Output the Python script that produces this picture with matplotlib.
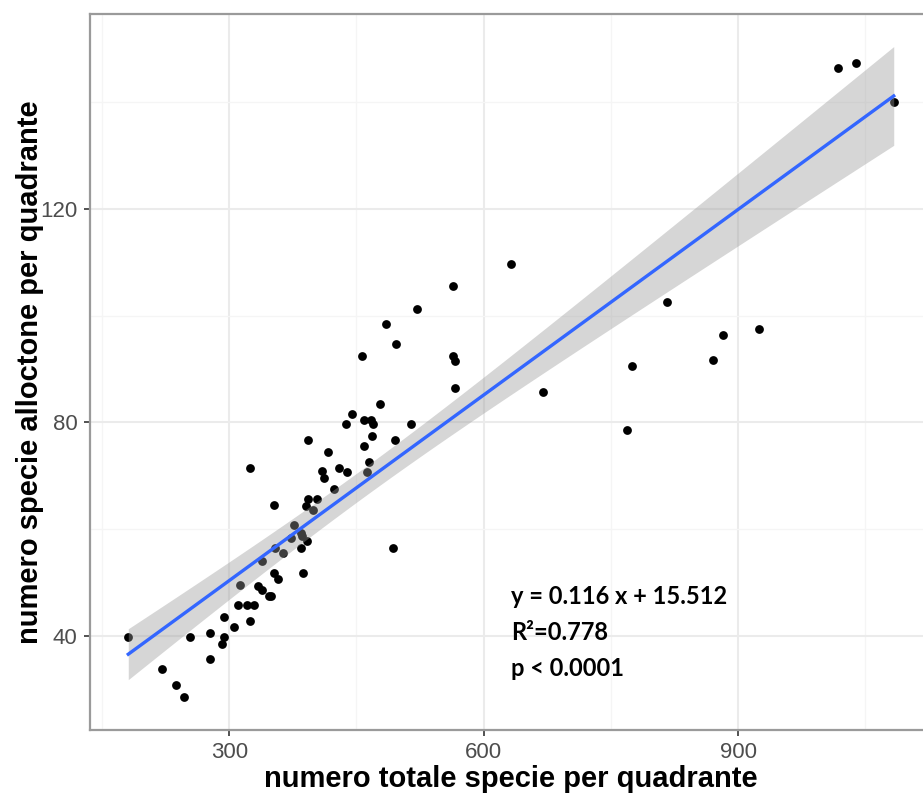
import numpy as np
import matplotlib

matplotlib.use("Agg")
import matplotlib.pyplot as plt
from matplotlib.ticker import MultipleLocator

# total species vs. alien species per survey square
totale = [
    1017.7, 1039.3, 1083.4, 816.5, 774.4, 769.3, 882.6, 870.4, 925.0, 631.9,
    670.0, 563.7, 520.9, 485.4, 497.2, 457.1, 563.4, 566.6, 565.7, 478.0,
    445.3, 438.2, 459.4, 466.9, 469.7, 514.1, 468.9, 459.4, 495.2, 417.0,
    464.5, 462.6, 429.1, 438.5, 424.0, 492.9, 393.0, 324.8, 409.8, 412.2,
    353.1, 393.3, 403.1, 390.1, 398.4, 376.4, 372.4, 384.7, 386.2, 391.3,
    384.2, 386.6, 363.0, 354.3, 338.6, 353.1, 357.9, 313.0, 334.3, 338.1,
    346.9, 349.2, 310.6, 321.3, 329.5, 324.8, 294.1, 305.5, 294.1, 291.7,
    277.6, 277.6, 254.3, 181.0, 220.9, 237.4, 246.9,
]
alloctone = [
    146.5, 147.3, 140.1, 102.5, 90.5, 78.5, 96.4, 91.7, 97.5, 109.6,
    85.6, 105.5, 101.3, 98.4, 94.6, 92.4, 92.5, 91.5, 86.4, 83.4,
    81.5, 79.7, 80.5, 80.5, 79.7, 79.7, 77.5, 75.6, 76.7, 74.5,
    72.6, 70.7, 71.4, 70.7, 67.4, 56.5, 76.7, 71.5, 70.8, 69.6,
    64.4, 65.7, 65.7, 64.3, 63.6, 60.7, 58.3, 59.3, 58.7, 57.7,
    56.5, 51.7, 55.4, 56.4, 53.9, 51.7, 50.6, 49.5, 49.3, 48.6,
    47.5, 47.4, 45.7, 45.7, 45.7, 42.7, 43.5, 41.6, 39.8, 38.5,
    40.4, 35.6, 39.8, 39.8, 33.7, 30.7, 28.4,
]

SLOPE = 0.116
INTERCEPT = 15.512
R2 = 0.778
T_CRIT = 1.992  # t(0.975, n - 2)

x = np.array(totale)
y = np.array(alloctone)
n = len(x)

# confidence band of the fitted mean, like geom_smooth(method = "lm")
xs = np.linspace(x.min(), x.max(), 80)
fit = INTERCEPT + SLOPE * xs
resid = y - (INTERCEPT + SLOPE * x)
s = np.sqrt(np.sum(resid ** 2) / (n - 2))
sxx = np.sum((x - x.mean()) ** 2)
se = s * np.sqrt(1 / n + (xs - x.mean()) ** 2 / sxx)
lo = fit - T_CRIT * se
hi = fit + T_CRIT * se

W, H = 923, 801
fig = plt.figure(figsize=(W / 100, H / 100), dpi=100)
left, right, bottom, top = 90, 932, 730, 14
ax = fig.add_axes([left / W, 1 - bottom / H, (right - left) / W, (bottom - top) / H])

ax.scatter(x, y, s=40, color="black", linewidths=0, zorder=2)
ax.fill_between(xs, lo, hi, color="#999999", alpha=0.4, linewidth=0, zorder=3)
ax.plot(xs, fit, color="#3366FF", linewidth=2.4, zorder=4)

xpad = 0.05 * (x.max() - x.min())
ymin = min(y.min(), lo.min())
ymax = max(y.max(), hi.max())
ypad = 0.05 * (ymax - ymin)
ax.set_xlim(x.min() - xpad, x.max() + xpad)
ax.set_ylim(ymin - ypad, ymax + ypad)

ax.xaxis.set_major_locator(MultipleLocator(300))
ax.xaxis.set_minor_locator(MultipleLocator(150))
ax.yaxis.set_major_locator(MultipleLocator(40))
ax.yaxis.set_minor_locator(MultipleLocator(20))
ax.grid(True, which="major", color="#EBEBEB", linewidth=1.5, zorder=0)
ax.grid(True, which="minor", color="#F5F5F5", linewidth=0.9, zorder=0)
ax.set_axisbelow(True)

for side in ax.spines.values():
    side.set_color("#9A9A9A")
    side.set_linewidth(1.6)

ax.tick_params(which="major", length=4, width=1.2, color="#333333",
               labelsize=16, labelcolor="#4D4D4D", pad=5)
ax.tick_params(which="minor", length=0)
for lab in ax.get_xticklabels() + ax.get_yticklabels():
    lab.set_family("Liberation Sans")

ax.set_xlabel("numero totale specie per quadrante", fontsize=21,
              fontweight="bold", family="Liberation Sans", labelpad=1)
ax.set_ylabel("numero specie alloctone per quadrante", fontsize=21,
              fontweight="bold", family="Liberation Sans", labelpad=-2.5)

stats = [
    f"y = {SLOPE:.3f} x + {INTERCEPT:.3f}",
    f"R\u00b2={R2:.3f}",
    "p < 0.0001",
]
for i, line in enumerate(stats):
    fig.text(511 / W, 1 - (596 + 36 * i) / H, line, fontsize=17,
             fontweight="bold", family="Lato", va="center", ha="left")

fig.savefig("out.png", dpi=100)
